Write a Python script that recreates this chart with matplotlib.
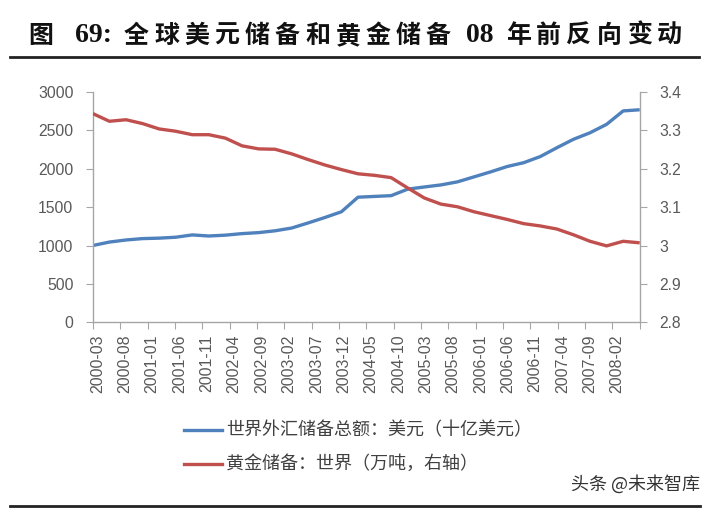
import numpy as np
import matplotlib.pyplot as plt
from matplotlib.lines import Line2D

plt.rcParams['font.family'] = ['Liberation Sans', 'Noto Sans CJK SC', 'DejaVu Sans']

# quarterly observations, months counted from 2000-03
months = np.arange(0, 100, 3)
fx_reserves = [1000, 1045, 1072, 1090, 1096, 1108, 1138, 1124, 1135, 1155,
               1168, 1192, 1228, 1295, 1365, 1440, 1630, 1640, 1650, 1735,
               1763, 1790, 1830, 1895, 1960, 2030, 2080, 2160, 2275, 2385,
               2470, 2580, 2755, 2770]
gold_reserves = [3.344, 3.324, 3.328, 3.318, 3.304, 3.298, 3.289, 3.289, 3.280, 3.260,
                 3.252, 3.251, 3.239, 3.224, 3.210, 3.198, 3.187, 3.183, 3.177, 3.150,
                 3.124, 3.108, 3.101, 3.088, 3.078, 3.068, 3.057, 3.051, 3.043, 3.028,
                 3.011, 2.999, 3.011, 3.007]

tick_labels = ['2000-03', '2000-08', '2001-01', '2001-06', '2001-11', '2002-04',
               '2002-09', '2003-02', '2003-07', '2003-12', '2004-05', '2004-10',
               '2005-03', '2005-08', '2006-01', '2006-06', '2006-11', '2007-04',
               '2007-09', '2008-02']

# title pieces: CJK runs and latin runs
title_parts = ['图', '69:', '全球美元储备和黄金储备', '08', '年前反向变动']
label_fx = '世界外汇储备总额：美元（十亿美元）'
label_gold = '黄金储备：世界（万吨，右轴）'
watermark = '头条 @未来智库'

BLUE = '#4F81BD'
RED = '#C0504D'
AXIS = '#A6A6A6'
TXT = '#595959'

W, H = 714, 509
fig = plt.figure(figsize=(W / 100, H / 100), dpi=100)
ax = fig.add_axes([0.130, 0.367, 0.766, 0.452])
ax2 = ax.twinx()

ax.plot(months, fx_reserves, color=BLUE, linewidth=2.4, solid_capstyle='butt')
ax2.plot(months, gold_reserves, color=RED, linewidth=2.4, solid_capstyle='butt')

ax.set_xlim(0, 99)
ax.set_ylim(0, 3000)
ax.set_yticks(np.arange(0, 3001, 500))
ax2.set_ylim(2.8, 3.4)
rt = np.arange(2.8, 3.41, 0.1)
ax2.set_yticks(rt)
ax2.set_yticklabels(['{:g}'.format(round(v, 1)) for v in rt])

# tick marks between labels, labels every 5 months
step = 99 / 20
ax.set_xticks(np.arange(21) * step)
ax.set_xticklabels([])
ax.set_xticks(np.arange(20) * step + 0.85, minor=True)
ax.set_xticklabels(tick_labels, minor=True, rotation=90, fontsize=11.5, color=TXT)
ax.tick_params(axis='x', which='minor', length=0, pad=9)
ax.tick_params(axis='x', which='major', length=5, color=AXIS, direction='out')

for a in (ax, ax2):
    a.spines['top'].set_visible(False)
    for s in ('left', 'right', 'bottom'):
        a.spines[s].set_color(AXIS)
        a.spines[s].set_linewidth(1)
    a.tick_params(axis='y', length=5, color=AXIS, labelsize=11.3, labelcolor=TXT, pad=9)
ax.spines['right'].set_visible(False)
ax2.spines['left'].set_visible(False)
ax2.spines['bottom'].set_visible(False)

# title, placed glyph by glyph to get the wide spacing of the original
title_x = [28, 75, 124, 466, 506]
adv = 30.2
ty = 1 - 36 / H
for part, x0 in zip(title_parts, title_x):
    if part[0].isascii():
        fig.text(x0 / W, ty, part, fontsize=20, fontweight='bold', color='#111111',
                 family=['Liberation Serif'], va='center', ha='left')
    else:
        for i, ch in enumerate(part):
            fig.text((x0 + i * adv) / W, ty, ch, fontsize=18, fontweight='bold',
                     color='#111111', family=['Noto Sans CJK SC'], va='center', ha='left')

fig.add_artist(Line2D([10 / W, 699 / W], [1 - 57 / H, 1 - 57 / H], color='#222222', linewidth=2))
fig.add_artist(Line2D([10 / W, 700 / W], [1 - 506 / H, 1 - 506 / H], color='#222222', linewidth=2))

# legend
for yy, col, lab in ((430, BLUE, label_fx), (464, RED, label_gold)):
    fig.add_artist(Line2D([184 / W, 222 / W], [1 - yy / H, 1 - yy / H], color=col, linewidth=2.4))
    fig.text(226 / W, 1 - yy / H, lab, fontsize=13, color='#404040', va='center',
             family=['Noto Sans CJK SC'])

fig.text(700 / W, 1 - 484 / H, watermark, fontsize=13, color='#333333', ha='right',
         va='center', family=['Noto Sans CJK SC'])

plt.savefig('out.png', dpi=100)
